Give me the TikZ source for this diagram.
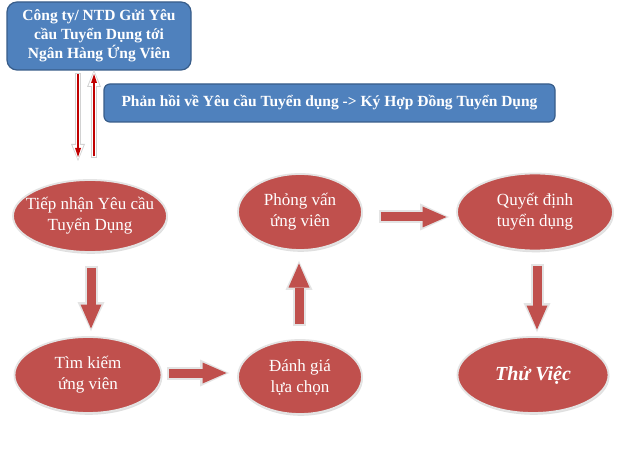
\documentclass[tikz,border=0pt]{standalone}
\usepackage{fontspec}
\setmainfont{Liberation Serif}
\usetikzlibrary{arrows.meta,shapes.geometric,calc,shadows}
\definecolor{boxblue}{HTML}{4F81BD}
\definecolor{boxedge}{HTML}{385D8A}
\definecolor{ovalred}{HTML}{C0504D}
\definecolor{ovaledge}{HTML}{E4E4E4}
\definecolor{thinred}{HTML}{C00000}
\tikzset{
  bluebox/.style={draw=boxedge, line width=1.2pt, fill=boxblue, text=white,
    font=\bfseries, align=center, inner sep=0pt},
  oval/.style={ellipse, draw=ovaledge, line width=1.8pt, fill=ovalred, text=white,
    align=center, inner xsep=-16pt, inner ysep=0pt, font=\fontsize{17}{21}\selectfont,
    drop shadow={shadow xshift=0.8pt, shadow yshift=-1.8pt, opacity=0.25}},
  blockout/.style={draw=ovaledge, line width=13pt,
    -{Triangle[width=27pt,length=29pt,line width=0pt]}},
  blockin/.style={draw=ovalred, line width=9pt,
    -{Triangle[width=21pt,length=24pt,line width=0pt]},
    shorten >=2.6pt, shorten <=2pt},
  thinout/.style={draw=gray!35, line width=5.5pt,
    -{Triangle[width=14pt,length=17pt,line width=0pt]}},
  thinmid/.style={draw=white, line width=3.5pt,
    -{Triangle[width=11pt,length=14pt,line width=0pt]}, shorten >=1.8pt, shorten <=1pt},
  thinin/.style={draw=thinred, line width=1.8pt,
    -{Triangle[width=6pt,length=9pt,line width=0pt]}, shorten >=4pt, shorten <=1.5pt}
}
\newcommand\blockarr[2]{\draw[blockout] #1 -- #2; \draw[blockin] #1 -- #2;}
\newcommand\thinarr[2]{\draw[thinout] #1 -- #2; \draw[thinmid] #1 -- #2; \draw[thinin] #1 -- #2;}
\begin{document}
\begin{tikzpicture}[x=1pt,y=-1pt]
\useasboundingbox (0,0) rectangle (624,449);
\fill[white] (0,0) rectangle (624,449);

\node[bluebox, rounded corners=10pt, minimum width=184pt, minimum height=68pt,
  font=\bfseries\fontsize{15.5}{19}\selectfont] (req) at (99,36)
  {Công ty/ NTD Gửi Yêu\\cầu Tuyển Dụng tới\\Ngân Hàng Ứng Viên};
\node[bluebox, rounded corners=6pt, minimum width=451pt, minimum height=38pt,
  font=\bfseries\fontsize{15.5}{18}\selectfont] (fb) at (329.5,103)
  {Phản hồi về Yêu cầu Tuyển dụng -> Ký Hợp Đồng Tuyển Dụng};

\node[oval, minimum width=154pt, minimum height=72pt] (tiep) at (90,216)
  {Tiếp nhận Yêu cầu\\Tuyển Dụng};
\node[oval, minimum width=147pt, minimum height=76pt] (tim) at (88,375)
  {Tìm kiếm\\ứng viên};
\node[oval, minimum width=124pt, minimum height=74pt] (danh) at (300,377)
  {Đánh giá\\lựa chọn};
\node[oval, minimum width=124pt, minimum height=76pt] (phong) at (300,212)
  {Phỏng vấn\\ứng viên};
\node[oval, minimum width=156pt, minimum height=77pt] (quyet) at (535,212)
  {Quyết định\\tuyển dụng};
\node[oval, minimum width=151pt, minimum height=76pt,
  font=\bfseries\itshape\fontsize{20}{24}\selectfont] (thu) at (533,375)
  {Thử Việc};

% thin arrows between top box and first oval
\coordinate (dtop) at (78,73);
\coordinate (dend) at (78,161);
\coordinate (utop) at (94,70);
\coordinate (uend) at (94,158);
\thinarr{(dtop)}{(dend)}
\thinarr{(uend)}{(utop)}

% block arrows
\coordinate (a1s) at ($(tiep.south)+(1,13)$);
\coordinate (a1e) at ($(tim.north)+(3,-5)$);
\blockarr{(a1s)}{(a1e)}
\coordinate (a2s) at ($(tim.east)+(5,-2)$);
\coordinate (a2e) at ($(danh.west)+(-8,-4)$);
\blockarr{(a2s)}{(a2e)}
\coordinate (a3s) at ($(danh.north)+(-1,-13)$);
\coordinate (a3e) at ($(phong.south)+(-1,10)$);
\blockarr{(a3s)}{(a3e)}
\coordinate (a4s) at ($(phong.east)+(16,5)$);
\coordinate (a4e) at ($(quyet.west)+(-7,5)$);
\blockarr{(a4s)}{(a4e)}
\coordinate (a5s) at ($(quyet.south)+(2,13)$);
\coordinate (a5e) at ($(thu.north)+(4,-4)$);
\blockarr{(a5s)}{(a5e)}
\end{tikzpicture}
\end{document}
